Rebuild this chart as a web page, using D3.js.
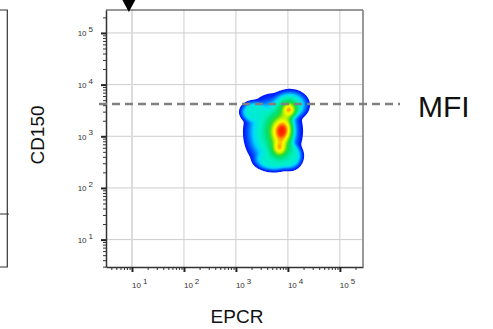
<!DOCTYPE html>
<html>
<head>
<meta charset="utf-8">
<script src="https://cdn.jsdelivr.net/npm/d3@7"></script>
<style>
  body { margin: 0; background: #fff; }
  svg { display: block; font-family: Arial, "Liberation Sans", sans-serif; }
</style>
</head>
<body>
<svg id="chart" width="493" height="329"></svg>
<script>
// decade ticks and their exponent labels
const decadeTicks = [1e1, 1e2, 1e3, 1e4, 1e5];
const decadeExps = ["1", "2", "3", "4", "5"];

// population outline: union of soft ellipses, log10 units (EPCR, CD150)
const shapeX  = [3.694, 4.040, 3.348, 4.040, 3.733];
const shapeY  = [3.083, 3.605, 3.470, 2.618, 2.541];
const shapeSX = [0.426, 0.293, 0.220, 0.205, 0.323];
const shapeSY = [0.561, 0.236, 0.177, 0.221, 0.177];
const shapeLevel = 0.5;

// density peaks on top of it: core, upper spot, lower spot, ridge parts, broad bump
const peakX  = [3.887, 4.027, 3.835, 3.954, 3.858, 3.85];
const peakY  = [3.108, 3.528, 2.754, 3.315, 2.928, 3.10];
const peakSX = [0.150, 0.090, 0.090, 0.115, 0.115, 0.20];
const peakSY = [0.160, 0.095, 0.095, 0.174, 0.174, 0.32];
const peakW  = [0.45, 0.48, 0.36, 0.12, 0.12, 0.18];

const mfiValue = 4200;     // CD150 MFI level
const gateMarker = 8.7;    // EPCR position of the marker arrow

const margin = { top: 10, left: 106 };
const width = 257, height = 257;

const svg = d3.select('#chart');

// Set the scales
const x = d3.scaleLog()
  .domain([Math.pow(10, 0.5), Math.pow(10, 5.445)])
  .range([0, width]);
const y = d3.scaleLog()
  .domain([Math.pow(10, 0.47), Math.pow(10, 5.444)])
  .range([height, 0]);

// leftover edge of the neighbouring panel
svg.append('path')
  .attr('d', 'M0,10H7.3V267H0M0,214H9')
  .attr('fill', 'none')
  .attr('stroke', '#333')
  .attr('stroke-width', 1.2);

const g = svg.append('g')
  .attr('transform', `translate(${margin.left}, ${margin.top})`);

// gridlines
g.append('g').selectAll('line')
  .data(decadeTicks)
  .enter().append('line')
  .attr('x1', 0).attr('x2', width)
  .attr('y1', (d) => y(d)).attr('y2', (d) => y(d))
  .attr('stroke', '#cdcdcd')
  .attr('stroke-width', 1);

g.append('g').selectAll('line')
  .data(decadeTicks)
  .enter().append('line')
  .attr('y1', 0).attr('y2', height)
  .attr('x1', (d) => x(d)).attr('x2', (d) => x(d))
  .attr('stroke', (d, i) => i === 0 ? '#dcdcdc' : '#cdcdcd')
  .attr('stroke-width', (d, i) => i === 0 ? 2 : 1);

// density field on a pixel grid
const nx = width, ny = height;
const values = new Float64Array(nx * ny);
for (let j = 0; j < ny; j++) {
  const ly = Math.log10(y.invert(j + 0.5));
  for (let i = 0; i < nx; i++) {
    const lx = Math.log10(x.invert(i + 0.5));
    // soft union of the outline ellipses
    let outside = 1;
    for (let k = 0; k < shapeX.length; k++) {
      const dx = (lx - shapeX[k]) / shapeSX[k];
      const dy = (ly - shapeY[k]) / shapeSY[k];
      const r2 = dx * dx + dy * dy;
      outside *= 1 - Math.exp(-0.5 * r2 * r2 * r2);
    }
    let s = shapeLevel * (1 - outside);
    for (let k = 0; k < peakX.length; k++) {
      const dx = (lx - peakX[k]) / peakSX[k];
      const dy = (ly - peakY[k]) / peakSY[k];
      s += peakW[k] * Math.exp(-0.5 * (dx * dx + dy * dy));
    }
    values[j * nx + i] = s;
  }
}

// colour levels between the outline and the peak
const t0 = 0.04;
const vmax = d3.max(values);
const nLevels = 48;
const fracs = d3.range(nLevels).map((k) => k / nLevels);
const levels = fracs.map((f) => t0 + (vmax - t0) * f);

const jet = d3.scaleLinear()
  .domain([0, 0.12, 0.24, 0.32, 0.40, 0.50, 0.60, 0.70, 0.80, 0.88, 0.95, 1])
  .range(['#0018ff', '#0050ff', '#0098ff', '#00d8ff', '#00f0c8', '#00e070',
          '#30dc30', '#b8f000', '#ffff00', '#ffa000', '#ff4000', '#ff2000'])
  .clamp(true);

const contours = d3.contours().size([nx, ny]).thresholds(levels)(values);
g.append('g')
  .attr('class', 'density')
  .selectAll('path')
  .data(contours)
  .enter().append('path')
  .attr('d', d3.geoPath())
  .attr('fill', (d, i) => jet(fracs[i] * nLevels / (nLevels - 1)))
  .attr('stroke', 'none');

// axes: minor then major ticks
const minorX = x.ticks().filter((d) => decadeTicks.indexOf(d) < 0);
const minorY = y.ticks().filter((d) => decadeTicks.indexOf(d) < 0);

g.append('g')
  .attr('class', 'axis y minor')
  .call(d3.axisLeft(y).tickValues(minorY).tickSize(3).tickSizeOuter(0).tickFormat(''))
  .call((s) => s.select('.domain').remove())
  .selectAll('line').attr('stroke', '#333');

g.append('g')
  .attr('class', 'axis x minor')
  .attr('transform', `translate(0, ${height})`)
  .call(d3.axisBottom(x).tickValues(minorX).tickSize(3).tickSizeOuter(0).tickFormat(''))
  .call((s) => s.select('.domain').remove())
  .selectAll('line').attr('stroke', '#333');

const yMajor = g.append('g')
  .attr('class', 'axis y')
  .call(d3.axisLeft(y).tickValues(decadeTicks).tickSize(5).tickSizeOuter(0).tickFormat(''));
yMajor.selectAll('line').attr('stroke', '#222').attr('stroke-width', 2);
yMajor.select('.domain').attr('stroke', '#333').attr('stroke-width', 1.5);

const xMajor = g.append('g')
  .attr('class', 'axis x')
  .attr('transform', `translate(0, ${height})`)
  .call(d3.axisBottom(x).tickValues(decadeTicks).tickSize(5).tickSizeOuter(0).tickFormat(''));
xMajor.selectAll('line').attr('stroke', '#222').attr('stroke-width', 2);
xMajor.select('.domain').attr('stroke', '#333').attr('stroke-width', 1.5);

// frame top and right
g.append('line')
  .attr('x1', 0).attr('x2', width).attr('y1', 0).attr('y2', 0)
  .attr('stroke', '#333').attr('stroke-width', 1.2);
g.append('line')
  .attr('x1', width).attr('x2', width).attr('y1', 0).attr('y2', height)
  .attr('stroke', '#808080').attr('stroke-width', 1.6);

// tick labels 10^n
const yLab = g.append('g').selectAll('text')
  .data(decadeTicks)
  .enter().append('text')
  .attr('x', -13)
  .attr('y', (d) => y(d) + 3.5)
  .attr('text-anchor', 'end')
  .attr('font-size', 8)
  .attr('fill', '#333')
  .text('10');
yLab.append('tspan').attr('dx', 2).attr('dy', -4.5).text((d, i) => decadeExps[i]);

const xLab = g.append('g').selectAll('text')
  .data(decadeTicks)
  .enter().append('text')
  .attr('x', (d) => x(d))
  .attr('y', height + 21)
  .attr('font-size', 8)
  .attr('fill', '#333')
  .text('10');
xLab.append('tspan').attr('dx', 2).attr('dy', -4.5).text((d, i) => decadeExps[i]);

// MFI dashed line
g.append('line')
  .attr('x1', -7).attr('x2', 294)
  .attr('y1', y(mfiValue)).attr('y2', y(mfiValue))
  .attr('stroke', '#808080')
  .attr('stroke-width', 2.5)
  .attr('stroke-dasharray', '8,5');

// marker arrow
const mx = x(gateMarker);
g.append('path')
  .attr('d', `M${mx - 7},-11L${mx + 7},-11L${mx},2Z`)
  .attr('fill', '#000');

// labels
svg.append('text')
  .attr('x', 418).attr('y', 116.5)
  .attr('font-size', 30)
  .attr('fill', '#111')
  .text('MFI');

svg.append('text')
  .attr('transform', 'translate(44, 135) rotate(-90)')
  .attr('text-anchor', 'middle')
  .attr('font-size', 19)
  .attr('fill', '#111')
  .text('CD150');

svg.append('text')
  .attr('x', 237).attr('y', 322.5)
  .attr('text-anchor', 'middle')
  .attr('font-size', 19)
  .attr('fill', '#111')
  .text('EPCR');
</script>
</body>
</html>
